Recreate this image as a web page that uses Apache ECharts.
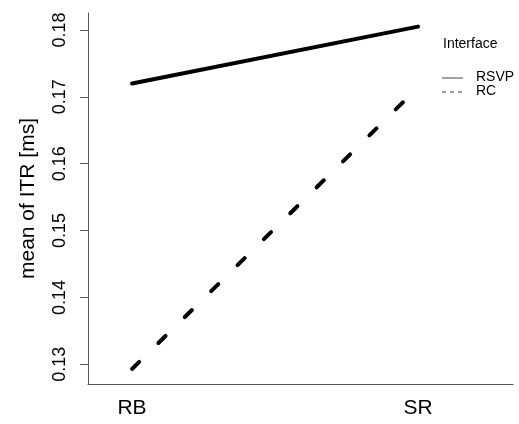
<!DOCTYPE html>
<html>
<head>
<meta charset="utf-8">
<script src="https://cdn.jsdelivr.net/npm/echarts@6/dist/echarts.min.js"></script>
<style>html,body{margin:0;padding:0;background:#fff}#c{width:519px;height:424px}</style>
</head>
<body>
<div id="c"></div>
<script>
const categories = ['RB', 'SR'];
const seriesNames = ['RSVP', 'RC'];
const rsvpValues = [0.1720, 0.1805];
const rcValues = [0.1293, 0.1714];
const yTicks = [0.13, 0.14, 0.15, 0.16, 0.17, 0.18];
const legendTitle = 'Interface';
const yAxisTitle = 'mean of ITR [ms]';

const FONT = 'Liberation Sans, Arial, sans-serif';
const toPts = vals => vals.map((v, i) => [i + 1, v]);

const chart = echarts.init(document.getElementById('c'), null, {renderer: 'canvas'});
chart.setOption({
  animation: false,
  backgroundColor: '#fff',
  grid: {left: 88, top: 13, width: 425, height: 371, containLabel: false},
  xAxis: {
    type: 'value', min: 0.846, max: 2.332,
    splitLine: {show: false},
    axisLine: {show: true, lineStyle: {color: '#555', width: 1}},
    axisTick: {show: false},
    axisLabel: {
      customValues: categories.map((c, i) => i + 1),
      formatter: v => categories[Math.round(v) - 1] || '',
      fontFamily: FONT, fontSize: 21, color: '#000', margin: 14
    }
  },
  yAxis: {
    type: 'value', min: 0.12705, max: 0.18254,
    name: yAxisTitle, nameLocation: 'middle', nameGap: 49, nameRotate: 90,
    nameTextStyle: {fontFamily: FONT, fontSize: 21, color: '#000'},
    splitLine: {show: false},
    axisLine: {show: true, onZero: false, lineStyle: {color: '#555', width: 1}},
    axisTick: {show: true, customValues: yTicks, length: 8, lineStyle: {color: '#555'}},
    axisLabel: {
      customValues: yTicks, rotate: 90,
      formatter: v => v.toFixed(2),
      fontFamily: FONT, fontSize: 18, color: '#000', margin: 19
    }
  },
  series: [
    {name: seriesNames[0], type: 'line', data: toPts(rsvpValues), showSymbol: false, symbol: 'none',
     lineStyle: {color: '#000', width: 4, type: 'solid', cap: 'round'}},
    {name: seriesNames[1], type: 'line', data: toPts(rcValues), showSymbol: false, symbol: 'none',
     lineStyle: {color: '#000', width: 4, type: [10, 27], cap: 'round'}}
  ],
  graphic: [
    {type: 'text', left: 443, top: 37, style: {text: legendTitle, font: '14px ' + FONT, fill: '#000'}},
    {type: 'line', shape: {x1: 442, y1: 78, x2: 463, y2: 78}, style: {stroke: '#444', lineWidth: 1}},
    {type: 'text', left: 476, top: 70, style: {text: seriesNames[0], font: '14px ' + FONT, fill: '#000'}},
    {type: 'line', shape: {x1: 442, y1: 92, x2: 463, y2: 92}, style: {stroke: '#444', lineWidth: 1, lineDash: [4, 4]}},
    {type: 'text', left: 476, top: 84, style: {text: seriesNames[1], font: '14px ' + FONT, fill: '#000'}}
  ]
});
</script>
</body>
</html>
